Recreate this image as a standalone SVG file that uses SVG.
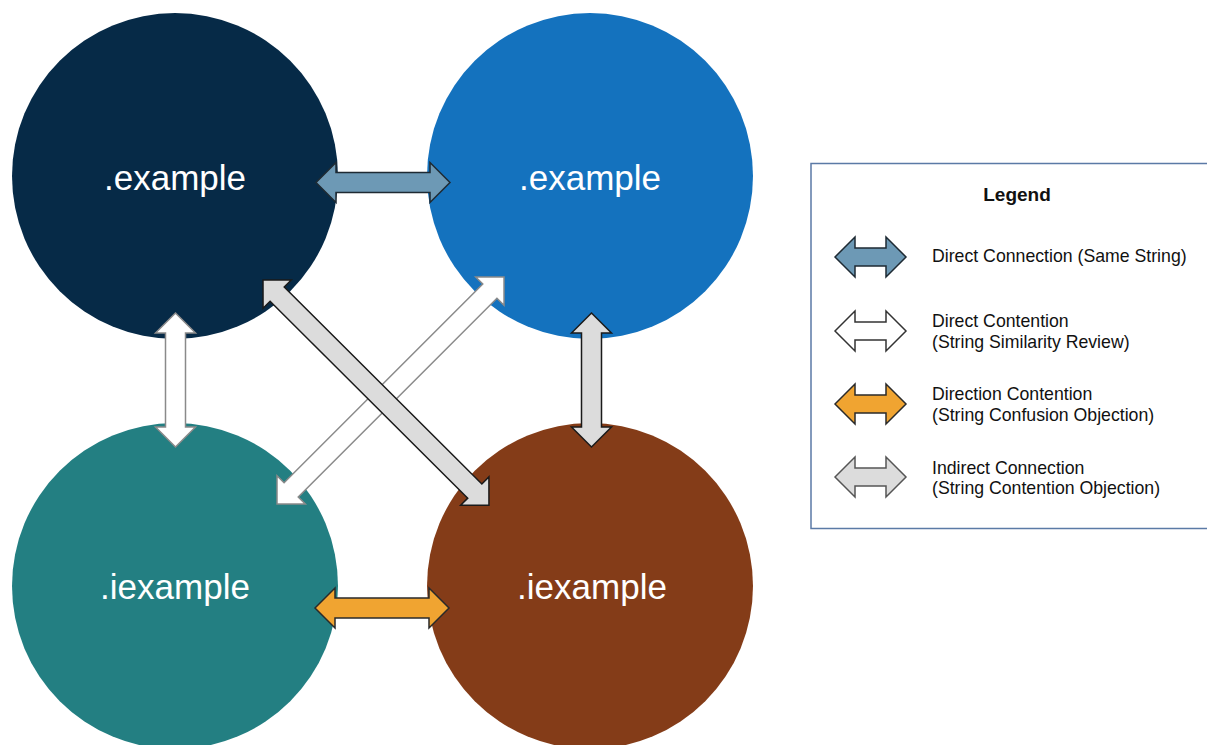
<svg xmlns="http://www.w3.org/2000/svg" width="1207" height="745" viewBox="0 0 1207 745">
<style>
.lbl{font-family:"Liberation Sans",Arial,sans-serif;font-size:35px;fill:#ffffff;text-anchor:middle}
.lg{font-family:"Liberation Sans",Arial,sans-serif;font-size:17.7px;fill:#111111}
.lgt{font-family:"Liberation Sans",Arial,sans-serif;font-size:19px;font-weight:bold;fill:#111111;text-anchor:middle}
.blue{fill:#6d99b5;stroke:#1e2a33;stroke-width:1.5;stroke-linejoin:miter}
.white{fill:#ffffff;stroke:#8a8a8a;stroke-width:1.5}
.orange{fill:#f0a431;stroke:#2a2a2a;stroke-width:1.5}
.gray{fill:#dcdcdc;stroke:#1a1a1a;stroke-width:1.5}
</style>
<rect width="1207" height="745" fill="#ffffff"/>
<g id="node-tl"><circle cx="175" cy="176" r="163" fill="#062a47"/><text class="lbl" x="175" y="190">.example</text></g>
<g id="node-tr"><circle cx="590" cy="176" r="163" fill="#1472be"/><text class="lbl" x="590" y="190">.example</text></g>
<g id="node-bl"><circle cx="175" cy="586" r="163" fill="#237f82"/><text class="lbl" x="175" y="599">.iexample</text></g>
<g id="node-br"><circle cx="590" cy="586" r="163" fill="#843c18"/><text class="lbl" x="592" y="599">.iexample</text></g>
<g id="connectors">
<path class="blue" transform="translate(316,182.5)" d="M0,0 L20,-20 L20,-10 L114,-10 L114,-20 L134,0 L114,20 L114,10 L20,10 L20,20 Z"/>
<path class="orange" transform="translate(315,608)" d="M0,0 L20,-20 L20,-10 L114,-10 L114,-20 L134,0 L114,20 L114,10 L20,10 L20,20 Z"/>
<path class="white" transform="translate(175.5,313) rotate(90)" d="M0,0 L20,-20 L20,-10 L114,-10 L114,-20 L134,0 L114,20 L114,10 L20,10 L20,20 Z"/>
<path class="white" transform="translate(504,277) rotate(135)" d="M0,0 L20,-20 L20,-10 L301,-10 L301,-20 L321,0 L301,20 L301,10 L20,10 L20,20 Z"/>
<path class="gray" transform="translate(591.5,313) rotate(90)" d="M0,0 L20,-20 L20,-10 L114,-10 L114,-20 L134,0 L114,20 L114,10 L20,10 L20,20 Z"/>
<path class="gray" transform="translate(263,280) rotate(44.9)" d="M0,0 L20,-20 L20,-10 L299,-10 L299,-20 L319,0 L299,20 L299,10 L20,10 L20,20 Z"/>
</g>
<g id="legend">
<rect x="811" y="163.5" width="400" height="365" fill="#ffffff" stroke="#5b7aa6" stroke-width="1.5"/>
<text class="lgt" x="1017" y="201">Legend</text>
<path class="blue" transform="translate(835,257)" d="M0,0 L20,-20 L20,-9 L51,-9 L51,-20 L71,0 L51,20 L51,9 L20,9 L20,20 Z"/>
<text class="lg" x="932" y="262">Direct Connection (Same String)</text>
<path class="white" style="stroke:#333333" transform="translate(835,331)" d="M0,0 L20,-20 L20,-9 L51,-9 L51,-20 L71,0 L51,20 L51,9 L20,9 L20,20 Z"/>
<text class="lg" x="932" y="327">Direct Contention</text>
<text class="lg" x="932" y="348">(String Similarity Review)</text>
<path class="orange" transform="translate(835,404)" d="M0,0 L20,-20 L20,-9 L51,-9 L51,-20 L71,0 L51,20 L51,9 L20,9 L20,20 Z"/>
<text class="lg" x="932" y="400">Direction Contention</text>
<text class="lg" x="932" y="421">(String Confusion Objection)</text>
<path class="gray" style="stroke:#555555" transform="translate(835,477)" d="M0,0 L20,-20 L20,-9 L51,-9 L51,-20 L71,0 L51,20 L51,9 L20,9 L20,20 Z"/>
<text class="lg" x="932" y="474">Indirect Connection</text>
<text class="lg" x="932" y="494">(String Contention Objection)</text>
</g>
</svg>
